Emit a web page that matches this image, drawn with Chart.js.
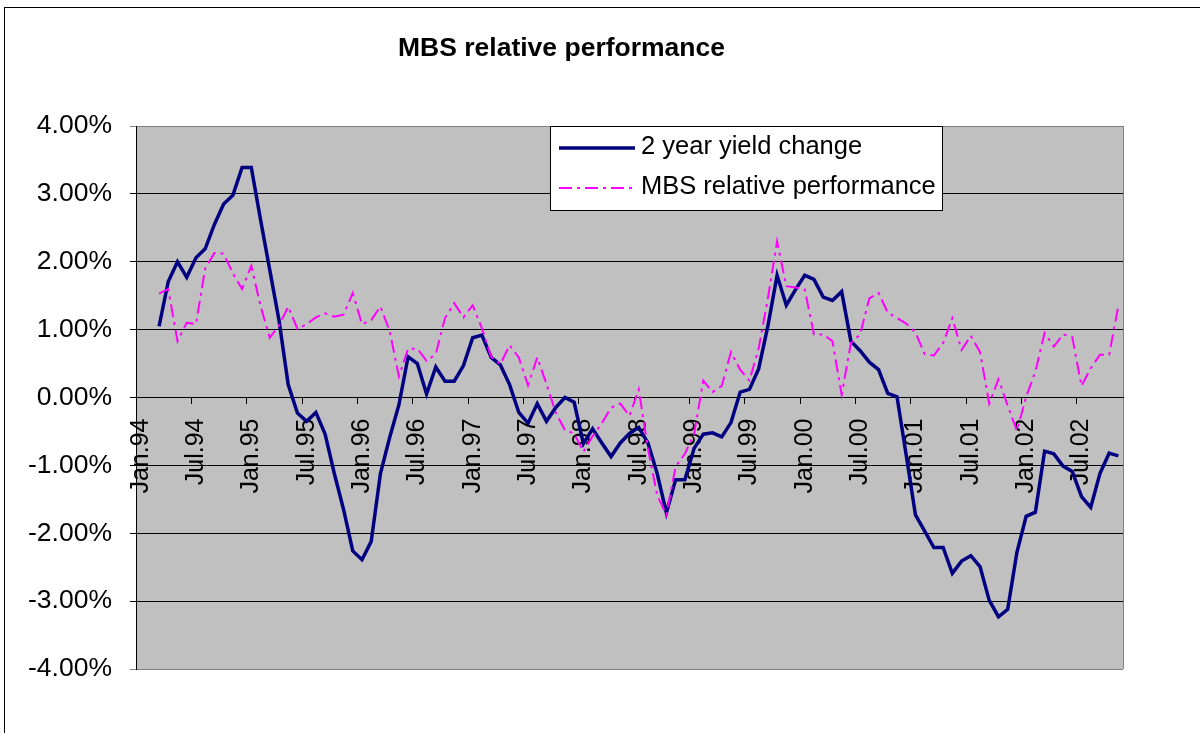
<!DOCTYPE html>
<html>
<head>
<meta charset="utf-8">
<title>MBS relative performance</title>
<script src="https://cdn.jsdelivr.net/npm/chart.js@4.4.1/dist/chart.umd.min.js"></script>
<style>
    html, body { margin: 0; padding: 0; background: #fff; }
    #container_grafico { width: 1200px; height: 733px; }
</style>
</head>
<body>
<div id="container_grafico"><canvas id="grafico" width="1200" height="733"></canvas></div>
<script>
// meses e anos do eixo x (jan/94 ate nov/02)
const meses = ["Jan", "Feb", "Mar", "Apr", "May", "Jun", "Jul", "Aug", "Sep", "Oct", "Nov", "Dec"]
const anos = ["94", "95", "96", "97", "98", "99", "00", "01", "02"]
const totalMeses = 107

// valores em % (os dois primeiros meses sem dado)
const variacaoJuros = [
    null, null, 1.05, 1.71, 2.00, 1.77, 2.06, 2.19, 2.55, 2.85,
    2.98, 3.39, 3.39, 2.62, 1.88, 1.14, 0.19, -0.23, -0.35, -0.22,
    -0.54, -1.12, -1.65, -2.26, -2.39, -2.12, -1.12, -0.59, -0.11, 0.60,
    0.50, 0.05, 0.45, 0.24, 0.24, 0.47, 0.88, 0.92, 0.59, 0.48,
    0.19, -0.22, -0.38, -0.09, -0.35, -0.15, 0.00, -0.07, -0.68, -0.46,
    -0.67, -0.87, -0.67, -0.53, -0.44, -0.67, -1.12, -1.70, -1.21, -1.21,
    -0.75, -0.54, -0.52, -0.58, -0.37, 0.08, 0.12, 0.42, 1.05, 1.80,
    1.36, 1.59, 1.80, 1.74, 1.48, 1.43, 1.56, 0.83, 0.69, 0.52,
    0.41, 0.06, 0.01, -0.85, -1.73, -1.97, -2.21, -2.21, -2.59, -2.41,
    -2.33, -2.49, -2.99, -3.23, -3.12, -2.28, -1.75, -1.69, -0.79, -0.83,
    -1.01, -1.09, -1.46, -1.62, -1.12, -0.82, -0.86
]
const performanceMbs = [
    null, null, 1.53, 1.60, 0.83, 1.10, 1.08, 1.90, 2.13, 2.12,
    1.83, 1.60, 1.94, 1.35, 0.88, 1.06, 1.34, 1.01, 1.08, 1.18,
    1.24, 1.19, 1.22, 1.54, 1.08, 1.14, 1.34, 0.98, 0.31, 0.72,
    0.72, 0.54, 0.64, 1.17, 1.39, 1.18, 1.36, 1.02, 0.60, 0.49,
    0.77, 0.59, 0.18, 0.59, 0.20, -0.22, -0.48, -0.53, -0.80, -0.57,
    -0.38, -0.15, -0.09, -0.27, 0.12, -0.75, -1.44, -1.73, -1.02, -0.83,
    -0.54, 0.25, 0.08, 0.17, 0.67, 0.41, 0.25, 0.72, 1.46, 2.30,
    1.64, 1.62, 1.59, 0.93, 0.93, 0.83, 0.04, 0.80, 0.93, 1.46,
    1.54, 1.25, 1.17, 1.09, 0.96, 0.64, 0.62, 0.80, 1.17, 0.70,
    0.91, 0.67, -0.09, 0.27, -0.12, -0.49, 0.01, 0.38, 0.95, 0.75,
    0.93, 0.89, 0.17, 0.43, 0.63, 0.63, 1.35
]

const nomesSeries = ["2 year yield change", "MBS relative performance"]
const titulo = "MBS relative performance"

// monta os rotulos "Mes.aa"
const categorias = []
anos.forEach((ano) => {
    meses.forEach((mes) => {
        categorias.push(`${mes}.${ano}`)
    })
})
categorias.length = totalMeses

const fonte = '"Liberation Sans", Arial, sans-serif'

// fundo branco, moldura e area cinza do grafico
const fundo = {
    id: "fundo",
    beforeDraw(chart) {
        const { ctx, chartArea: a } = chart
        ctx.save()
        ctx.fillStyle = "#fff"
        ctx.fillRect(0, 0, chart.width, chart.height)
        // moldura (so topo e esquerda aparecem)
        ctx.fillStyle = "#000"
        ctx.fillRect(4, 7, chart.width - 4, 1)
        ctx.fillRect(4, 7, 1, chart.height - 7)
        ctx.fillStyle = "#c0c0c0"
        ctx.fillRect(a.left, a.top, a.right - a.left, a.bottom - a.top)
        ctx.strokeStyle = "#808080"
        ctx.lineWidth = 1
        ctx.beginPath()
        ctx.moveTo(Math.round(a.right) + 0.5, a.top)
        ctx.lineTo(Math.round(a.right) + 0.5, a.bottom)
        ctx.stroke()
        ctx.restore()
    }
}

// legenda em caixa branca por cima das linhas
const legendaCaixa = {
    id: "legendaCaixa",
    afterDraw(chart) {
        const { ctx } = chart
        ctx.save()
        ctx.fillStyle = "#fff"
        ctx.fillRect(550.5, 126.5, 392, 84)
        ctx.strokeStyle = "#000"
        ctx.lineWidth = 1
        ctx.strokeRect(550.5, 126.5, 392, 84)
        const linhas = [148, 188]
        chart.data.datasets.forEach((ds, i) => {
            const ly = linhas[i]
            ctx.beginPath()
            ctx.strokeStyle = ds.borderColor
            ctx.lineWidth = ds.borderWidth
            ctx.setLineDash(ds.borderDash || [])
            ctx.moveTo(559, ly)
            ctx.lineTo(635, ly)
            ctx.stroke()
            ctx.setLineDash([])
            ctx.fillStyle = "#000"
            ctx.font = `25.5px ${fonte}`
            ctx.textBaseline = "middle"
            ctx.fillText(ds.label, 641, ly - 1)
        })
        ctx.restore()
    }
}

const grafico = document.getElementById("grafico")

new Chart(grafico, {
    type: "line",
    data: {
        labels: categorias,
        datasets: [{
            label: nomesSeries[0],
            data: variacaoJuros,
            borderColor: "#000080",
            borderWidth: 3.5,
            pointRadius: 0,
            tension: 0,
            order: 1
        }, {
            label: nomesSeries[1],
            data: performanceMbs,
            borderColor: "#ff00ff",
            borderWidth: 2,
            borderDash: [13, 5, 3, 5],
            pointRadius: 0,
            tension: 0,
            order: 0
        }]
    },
    options: {
        responsive: false,
        animation: false,
        devicePixelRatio: 1,
        layout: { padding: { left: 0, right: 77, top: 0, bottom: 64 } },
        plugins: {
            legend: { display: false },
            tooltip: { enabled: false },
            title: {
                display: true,
                text: titulo,
                color: "#000",
                font: { family: fonte, size: 26.5, weight: "bold" },
                padding: { top: 32.5, bottom: 61.7 }
            }
        },
        scales: {
            x: {
                type: "category",
                offset: true,
                position: { y: 0 },
                afterFit: (scale) => { scale.height = 0 },
                border: { display: true, color: "#000", width: 1 },
                grid: {
                    offset: true,
                    drawOnChartArea: false,
                    tickLength: 6,
                    color: (ctx) => ctx.index % 6 === 0 ? "#000" : "rgba(0,0,0,0)"
                },
                ticks: {
                    autoSkip: false,
                    minRotation: 90,
                    maxRotation: 90,
                    padding: 15,
                    color: "#000",
                    font: { family: fonte, size: 25 },
                    callback: (valor, index) => index % 6 === 0 ? categorias[index] : ""
                }
            },
            y: {
                min: -4,
                max: 4,
                afterFit: (scale) => { scale.width = 136 },
                border: { display: true, color: "#000", width: 1 },
                grid: {
                    tickLength: 6,
                    color: (ctx) => Math.abs(ctx.tick.value) === 4 ? "#808080" : "#000"
                },
                ticks: {
                    stepSize: 1,
                    padding: 18,
                    color: "#000",
                    font: { family: fonte, size: 26.5 },
                    callback: (valor) => valor.toFixed(2) + "%"
                }
            }
        }
    },
    plugins: [fundo, legendaCaixa]
})
</script>
</body>
</html>
